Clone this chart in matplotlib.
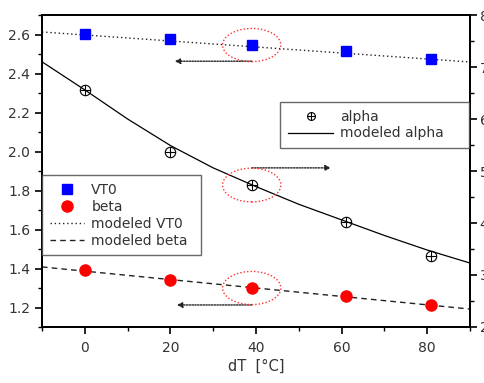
import matplotlib
matplotlib.use("Agg")
import matplotlib.pyplot as plt
from matplotlib.patches import Ellipse
from matplotlib.ticker import MultipleLocator
from matplotlib.legend_handler import HandlerTuple

# ---- data ----
dT = [0, 20, 39, 61, 81]
vt0 = [2.603, 2.575, 2.546, 2.515, 2.474]
beta = [1.392, 1.341, 1.300, 1.259, 1.213]
alpha = [6.56, 5.37, 4.73, 4.02, 3.37]

model_x = [-10, 0, 10, 20, 30, 40, 50, 60, 70, 80, 90]
model_alpha = [7.10, 6.56, 6.00, 5.49, 5.06, 4.70, 4.36, 4.06, 3.76, 3.48, 3.23]
model_lin_x = [-10, 90]
model_vt0 = [2.613, 2.459]
model_beta = [1.408, 1.192]

x_ticks = [0, 20, 40, 60, 80]
left_ticks = [1.2, 1.4, 1.6, 1.8, 2.0, 2.2, 2.4, 2.6]
right_ticks = [2, 3, 4, 5, 6, 7, 8]

plt.rcParams['font.family'] = ['DejaVu Sans']
txt_col = '#333333'

fig = plt.figure(figsize=(4.84, 3.83), dpi=100)
ax = fig.add_axes([42/484, 56/383, 428/484, 312/383])
ax2 = ax.twinx()

# left axis series
l_vt0, = ax.plot(dT, vt0, ls='none', marker='s', ms=7.8, color='#0000ff', mec='#0000ff', zorder=3)
l_beta, = ax.plot(dT, beta, ls='none', marker='o', ms=8, color='#ff0000', mec='#ff0000', zorder=3)
l_mvt0, = ax.plot(model_lin_x, model_vt0, ls=(0, (1, 2)), lw=1, color='#222222', zorder=2)
l_mbeta, = ax.plot(model_lin_x, model_beta, ls=(0, (4, 3)), lw=1, color='#222222', zorder=2)

# right axis series
a1, = ax2.plot(dT, alpha, ls='none', marker='o', ms=7.5, mfc='none', mec='black', mew=0.8, zorder=3)
a2, = ax2.plot(dT, alpha, ls='none', marker='+', ms=7.5, mec='black', mew=0.8, zorder=3)
l_malpha, = ax2.plot(model_x, model_alpha, ls='-', lw=0.9, color='black', zorder=2)

ax.set_xlim(-10, 90)
ax.set_ylim(1.1, 2.7)
ax2.set_ylim(2, 8)

ax.set_xticks(x_ticks)
ax.xaxis.set_minor_locator(MultipleLocator(10))
ax.set_yticks(left_ticks)
ax.set_yticklabels([f"{v:.1f}" for v in left_ticks])
ax.yaxis.set_minor_locator(MultipleLocator(0.1))
ax2.set_yticks(right_ticks)
ax2.yaxis.set_minor_locator(MultipleLocator(0.5))

for a in (ax, ax2):
    a.tick_params(which='major', direction='out', length=5, width=1.2, labelsize=10, labelcolor=txt_col, color='black')
    a.tick_params(which='minor', direction='out', length=3, width=1.0, color='black')
    for s in a.spines.values():
        s.set_linewidth(1.3)
        s.set_color('black')
ax.tick_params(axis='x', pad=5)
ax2.tick_params(axis='y', pad=2)

ax.set_xlabel("dT  [°C]", fontsize=10.5, color=txt_col, labelpad=3)

# highlight ellipses and arrows around the dT = 39 points
i = 2
ell_kw = dict(fill=False, ec='#ff3030', ls=(0, (1, 1.5)), lw=1.0, zorder=4)
ax.add_patch(Ellipse((dT[i], vt0[i]), 13.6, 0.17, **ell_kw))
ax.add_patch(Ellipse((dT[i], beta[i]), 13.6, 0.17, **ell_kw))
ax2.add_patch(Ellipse((dT[i], alpha[i]), 13.6, 0.65, **ell_kw))

arr_kw = dict(arrowstyle='-|>', ls=(0, (1, 1)), lw=1.0, color='#222222', mutation_scale=8, shrinkA=0, shrinkB=0)
ax.annotate('', xy=(21, vt0[i] - 0.083), xytext=(dT[i], vt0[i] - 0.083), arrowprops=arr_kw)
ax.annotate('', xy=(21.5, beta[i] - 0.087), xytext=(dT[i], beta[i] - 0.087), arrowprops=arr_kw)
ax2.annotate('', xy=(57.5, alpha[i] + 0.33), xytext=(dT[i], alpha[i] + 0.33), arrowprops=arr_kw)

# legends
leg1 = ax2.legend([l_vt0, l_beta, l_mvt0, l_mbeta], ['VT0', 'beta', 'modeled VT0', 'modeled beta'],
                  loc='upper left', bbox_to_anchor=(0.0, 1 - 160/312, (201 - 42)/428, 0),
                  bbox_transform=ax.transAxes, mode='expand',
                  frameon=True, fancybox=False, edgecolor='#444444', fontsize=10, handlelength=2.5,
                  handletextpad=0.5, labelspacing=0.22, borderpad=0.55, borderaxespad=0.0, labelcolor=txt_col)
leg1.get_frame().set_linewidth(1.0)
leg1.set_zorder(5)
ax2.add_artist(leg1)
leg2 = ax2.legend([(a1, a2), l_malpha], ['alpha', 'modeled alpha'],
                  handler_map={tuple: HandlerTuple(ndivide=1)},
                  loc='upper left', bbox_to_anchor=((280 - 42)/428, 1 - 87/312, (469 - 280)/428, 0),
                  bbox_transform=ax.transAxes, mode='expand',
                  frameon=True, fancybox=False, edgecolor='#444444', fontsize=10, handlelength=3.3,
                  handletextpad=0.5, labelspacing=0.2, borderpad=0.55, borderaxespad=0.0, labelcolor=txt_col,
                  markerscale=0.75)
leg2.get_frame().set_linewidth(1.0)

fig.savefig('out.png', dpi=100)
